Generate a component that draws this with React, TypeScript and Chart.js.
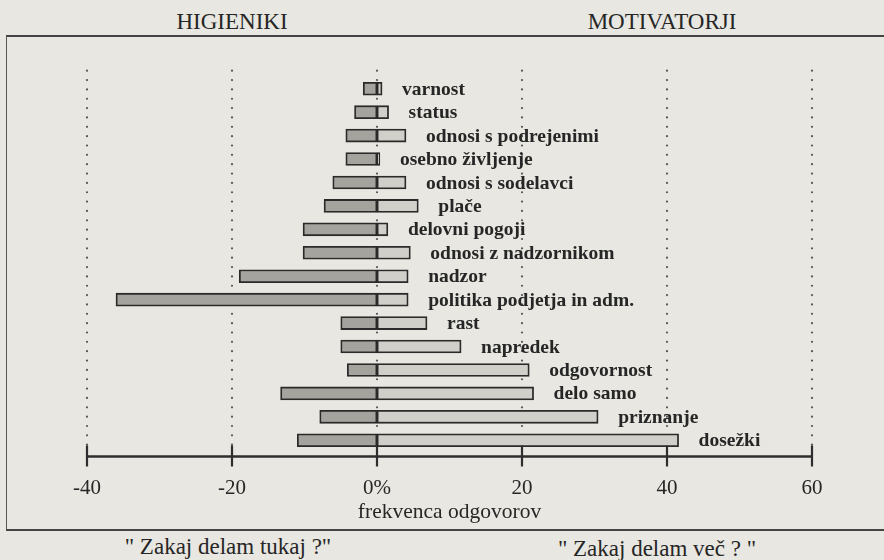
import React, { useEffect, useRef } from "react";
import { Chart, registerables } from "chart.js";

Chart.register(...registerables);

const categories: string[] = [
  "varnost",
  "status",
  "odnosi s podrejenimi",
  "osebno življenje",
  "odnosi s sodelavci",
  "plače",
  "delovni pogoji",
  "odnosi z nadzornikom",
  "nadzor",
  "politika podjetja in adm.",
  "rast",
  "napredek",
  "odgovornost",
  "delo samo",
  "priznanje",
  "dosežki",
];

const hygieneValues: number[] = [
  -1.9, -3.1, -4.3, -4.3, -6.1, -7.3, -10.2, -10.2, -19.0, -36.0, -5.0, -5.0, -4.1, -13.3, -7.9, -11.0,
];

const motivatorValues: number[] = [
  0.7, 1.6, 4.0, 0.4, 4.0, 5.7, 1.5, 4.6, 4.3, 4.3, 6.9, 11.6, 21.0, 21.6, 30.5, 41.6,
];

const xTickValues: number[] = [-40, -20, 0, 20, 40, 60];

const axisTitle = "frekvenca odgovorov";
const leftHeader = "HIGIENIKI";
const rightHeader = "MOTIVATORJI";
const leftQuestion = "\" Zakaj delam tukaj ?\"";
const rightQuestion = "\" Zakaj delam več ? \"";

const INK = "#262626";
const BG = "#e8e7e1";

const dotGridPlugin = {
  id: "dotGrid",
  beforeDatasetsDraw(chart: any) {
    const { ctx, chartArea } = chart;
    const xs = chart.scales.x;
    const axisY = chartArea.bottom + 4.5;
    ctx.save();
    ctx.fillStyle = "#555";
    xTickValues.forEach((v) => {
      const x = xs.getPixelForValue(v);
      for (let y = 70.7; y < axisY - 10; y += 9.35) {
        ctx.beginPath();
        ctx.arc(x, y, 1.1, 0, Math.PI * 2);
        ctx.fill();
      }
    });
    ctx.restore();
  },
};

const axisPlugin = {
  id: "axisLine",
  afterDatasetsDraw(chart: any) {
    const { ctx, chartArea } = chart;
    const xs = chart.scales.x;
    const axisY = chartArea.bottom + 4.5;
    ctx.save();
    ctx.strokeStyle = "#2e2e2e";
    ctx.lineWidth = 2.5;
    ctx.beginPath();
    ctx.moveTo(xs.getPixelForValue(xTickValues[0]), axisY);
    ctx.lineTo(xs.getPixelForValue(xTickValues[xTickValues.length - 1]), axisY);
    ctx.stroke();
    ctx.lineWidth = 2.2;
    xTickValues.forEach((v) => {
      const x = xs.getPixelForValue(v);
      ctx.beginPath();
      ctx.moveTo(x, axisY - 11);
      ctx.lineTo(x, axisY + 10);
      ctx.stroke();
    });
    ctx.restore();
  },
};

const labelPlugin = {
  id: "barLabels",
  afterDatasetsDraw(chart: any) {
    const { ctx } = chart;
    const meta = chart.getDatasetMeta(1);
    ctx.save();
    ctx.fillStyle = INK;
    ctx.font = 'bold 19.5px "Liberation Serif"';
    ctx.textAlign = "left";
    ctx.textBaseline = "middle";
    meta.data.forEach((el: any, i: number) => {
      ctx.fillText(categories[i], el.x + 20, el.y + 1);
    });
    ctx.restore();
  },
};

export default function App() {
  const canvasRef = useRef<HTMLCanvasElement | null>(null);

  useEffect(() => {
    document.body.style.margin = "0";
    document.body.style.background = BG;
    if (!canvasRef.current) return;
    const chart = new Chart(canvasRef.current, {
      type: "bar",
      data: {
        labels: categories,
        datasets: [
          {
            label: "higieniki",
            data: hygieneValues,
            backgroundColor: "#a4a39d",
            borderColor: "#2a2a2a",
            borderWidth: 1.8,
            borderSkipped: false,
            barThickness: 13,
          },
          {
            label: "motivatorji",
            data: motivatorValues,
            backgroundColor: "#d0cfc9",
            borderColor: "#2a2a2a",
            borderWidth: 1.8,
            borderSkipped: false,
            barThickness: 13,
          },
        ],
      },
      options: {
        indexAxis: "y",
        animation: false,
        responsive: false,
        devicePixelRatio: 1,
        layout: { padding: { left: 87, right: 72, top: 77, bottom: 33 } },
        plugins: {
          legend: { display: false },
          tooltip: { enabled: false },
          title: { display: false },
        },
        scales: {
          y: {
            type: "category",
            stacked: true,
            display: false,
          },
          x: {
            type: "linear",
            stacked: true,
            min: -40,
            max: 60,
            grid: { display: false },
            border: { display: false },
            afterBuildTicks(scale: any) {
              scale.ticks = xTickValues.map((v) => ({ value: v }));
            },
            afterFit(scale: any) {
              scale.height = 75;
            },
            ticks: {
              padding: 16,
              maxRotation: 0,
              color: INK,
              font: { family: "Liberation Serif", size: 21 },
              callback: (v: any) => (Number(v) === 0 ? "0%" : String(v)),
            },
            title: {
              display: true,
              text: axisTitle,
              color: INK,
              padding: { top: 0, bottom: 2 },
              font: { family: "Liberation Serif", size: 21.5 },
            },
          },
        },
      },
      plugins: [dotGridPlugin, axisPlugin, labelPlugin],
    } as any);
    return () => chart.destroy();
  }, []);

  const textStyle: React.CSSProperties = {
    position: "absolute",
    fontFamily: '"Liberation Serif", serif',
    color: INK,
    whiteSpace: "nowrap",
    transform: "translate(-50%, -50%)",
    lineHeight: 1,
  };

  return (
    <div
      style={{
        position: "absolute",
        left: 0,
        top: 0,
        width: 884,
        height: 560,
        background: BG,
        overflow: "hidden",
      }}
    >
      <div
        style={{
          position: "absolute",
          left: 6,
          top: 35,
          width: 900,
          height: 492,
          borderLeft: "1.5px solid #555",
          borderTop: "2px solid #444",
          borderBottom: "2px solid #444",
        }}
      />
      <div style={{ ...textStyle, left: 232, top: 21, fontSize: 23 }}>{leftHeader}</div>
      <div style={{ ...textStyle, left: 662, top: 21, fontSize: 23 }}>{rightHeader}</div>
      <div style={{ ...textStyle, left: 228, top: 546, fontSize: 23 }}>{leftQuestion}</div>
      <div style={{ ...textStyle, left: 657, top: 548, fontSize: 23 }}>{rightQuestion}</div>
      <canvas
        ref={canvasRef}
        width={884}
        height={560}
        style={{ position: "absolute", left: 0, top: 0, width: 884, height: 560 }}
      />
    </div>
  );
}
